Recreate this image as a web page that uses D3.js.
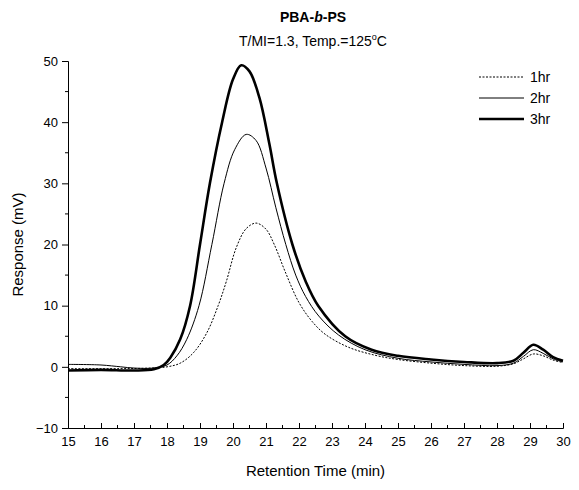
<!DOCTYPE html>
<html>
<head>
<meta charset="utf-8">
<script src="https://cdn.jsdelivr.net/npm/d3@7"></script>
<style>
  body { margin: 0; background: #fff; }
  svg { font-family: Arial, "Liberation Sans", sans-serif; }
</style>
</head>
<body>
<div id="chart"></div>
<script>
// series: [retention time (min), response (mV)]
const series1hr = [[15, -0.3], [16.5, -0.3], [17.5, -0.2], [18.0, 0], [18.4, 0.6], [18.8, 2.3], [19.2, 5.5],
  [19.55, 10], [19.8, 14], [20.1, 19.5], [20.4, 22.6], [20.7, 23.5], [21.0, 22.5], [21.25, 20], [21.6, 15.3],
  [22.0, 10.5], [22.4, 7.4], [22.8, 5.3], [23.5, 3.2], [24.3, 1.9], [25, 1.2], [26, 0.6], [27, 0.2], [28, 0.1],
  [28.5, 0.5], [28.8, 1.3], [29.1, 2.1], [29.4, 1.8], [29.7, 1.1], [30, 0.7]];
const series2hr = [[15, 0.4], [16, 0.3], [16.6, 0], [17, -0.2], [17.6, -0.2], [18.0, 0.3], [18.3, 1.8],
  [18.6, 4.5], [18.97, 10], [19.36, 20], [19.73, 30], [20.05, 35.5], [20.4, 38], [20.7, 37], [21.0, 32.5],
  [21.3, 26], [21.6, 20], [21.9, 15], [22.2, 11.5], [22.6, 8.3], [23.2, 5.2], [24, 2.8], [25, 1.4], [26, 0.8],
  [27, 0.4], [28, 0.2], [28.5, 0.6], [28.8, 1.7], [29.1, 2.8], [29.4, 2.2], [29.7, 1.3], [30, 0.8]];
const series3hr = [[15, -0.6], [16, -0.5], [17, -0.6], [17.6, -0.4], [17.9, 0.3], [18.1, 1.5], [18.4, 4.5],
  [18.7, 10], [19.0, 20], [19.3, 30], [19.67, 40], [20.0, 47], [20.25, 49.3], [20.5, 48.3], [20.8, 44],
  [21.1, 36.5], [21.33, 30], [21.8, 20], [22.2, 14], [22.58, 10], [23.4, 5], [24.2, 2.8], [25, 1.8],
  [26, 1.2], [27, 0.8], [28, 0.6], [28.5, 1], [28.8, 2.3], [29.1, 3.6], [29.4, 2.8], [29.7, 1.6], [30, 1.0]];

const legendLabels = ['1hr', '2hr', '3hr'];
const xTicks = d3.range(15, 31, 1);
const yTicks = [-10, 0, 10, 20, 30, 40, 50];

const width = 579, height = 490;
const plotLeft = 68, plotRight = 563, plotTop = 61, plotBottom = 428;

const svg = d3.select('#chart').append('svg')
  .attr('width', width)
  .attr('height', height);

const x = d3.scaleLinear().domain([15, 30]).range([plotLeft, plotRight]);
const y = d3.scaleLinear().domain([-10, 50]).range([plotBottom, plotTop]);

// x axis, ticks pointing up
const xAxis = svg.append('g')
  .attr('transform', `translate(0,${plotBottom})`)
  .call(d3.axisBottom(x).tickValues(xTicks).tickFormat(d3.format('d')).tickSize(-5).tickPadding(9));
xAxis.append('g').selectAll('line')
  .data(d3.range(15.5, 30, 1))
  .enter().append('line')
  .attr('x1', d => x(d)).attr('x2', d => x(d))
  .attr('y1', 0).attr('y2', -3)
  .attr('stroke', '#000');

// y axis, ticks pointing out
const yAxis = svg.append('g')
  .attr('transform', `translate(${plotLeft},0)`)
  .call(d3.axisLeft(y).tickValues(yTicks).tickSize(6).tickPadding(4));
yAxis.append('g').selectAll('line')
  .data(d3.range(-5, 50, 10))
  .enter().append('line')
  .attr('y1', d => y(d)).attr('y2', d => y(d))
  .attr('x1', 0).attr('x2', -3)
  .attr('stroke', '#000');

svg.selectAll('.domain').attr('stroke', '#000');
svg.selectAll('.tick text').style('font-size', '13px').style('fill', '#000');

const line = d3.line()
  .x(d => x(d[0]))
  .y(d => y(d[1]))
  .curve(d3.curveCatmullRom.alpha(0.5));

const styles = [
  { w: 1, dash: '2,1.5' },
  { w: 1, dash: null },
  { w: 2.6, dash: null }
];

[series1hr, series2hr, series3hr].forEach((s, i) => {
  svg.append('path')
    .datum(s)
    .attr('d', line)
    .attr('fill', 'none')
    .attr('stroke', '#000')
    .attr('stroke-width', styles[i].w)
    .attr('stroke-dasharray', styles[i].dash);
});

// legend
const legend = svg.append('g');
legendLabels.forEach((lab, i) => {
  const ly = 77 + i * 21;
  legend.append('line')
    .attr('x1', 479).attr('x2', 524)
    .attr('y1', ly).attr('y2', ly)
    .attr('stroke', '#000')
    .attr('stroke-width', styles[i].w)
    .attr('stroke-dasharray', styles[i].dash);
  legend.append('text')
    .attr('x', 530).attr('y', ly + 5)
    .style('font-size', '14px')
    .text(lab);
});

// titles
const title = svg.append('text')
  .attr('x', 313).attr('y', 22)
  .attr('text-anchor', 'middle')
  .style('font-size', '14px')
  .style('font-weight', 'bold');
title.append('tspan').text('PBA-');
title.append('tspan').style('font-style', 'italic').text('b');
title.append('tspan').text('-PS');

const sub = svg.append('text')
  .attr('x', 313).attr('y', 46)
  .attr('text-anchor', 'middle')
  .style('font-size', '14px');
sub.append('tspan').text('T/MI=1.3, Temp.=125');
sub.append('tspan').attr('dy', -6).style('font-size', '9px').text('o');
sub.append('tspan').attr('dy', 6).text('C');

svg.append('text')
  .attr('x', (plotLeft + plotRight) / 2).attr('y', 476)
  .attr('text-anchor', 'middle')
  .style('font-size', '15px')
  .text('Retention Time (min)');

svg.append('text')
  .attr('transform', `translate(23,${(plotTop + plotBottom) / 2}) rotate(-90)`)
  .attr('text-anchor', 'middle')
  .style('font-size', '15px')
  .text('Response (mV)');
</script>
</body>
</html>
